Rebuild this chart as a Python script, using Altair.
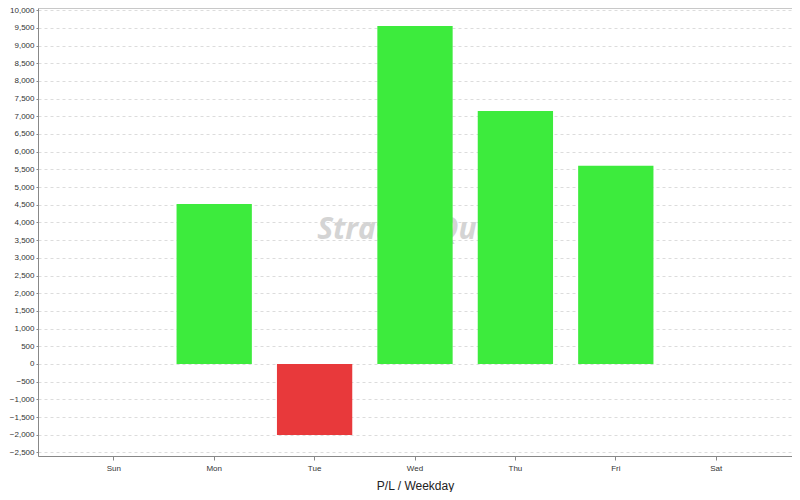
import altair as alt
import pandas as pd

days = ["Sun", "Mon", "Tue", "Wed", "Thu", "Fri", "Sat"]
pl = [None, 4520, -2010, 9550, 7150, 5600, None]

df = pd.DataFrame({"day": days, "pl": pl})
df["color"] = ["#3deb3d" if (v is not None and v >= 0) else "#e8393b" for v in pl]
bars_df = df.dropna(subset=["pl"])

x = alt.X("day:N", sort=days, scale=alt.Scale(domain=days, paddingInner=0.25, paddingOuter=0.38),
          axis=alt.Axis(title="P/L / Weekday", labelAngle=0, labelFontSize=8, labelFont="Arial",
                        labelColor="#333", titleFontSize=12, titleFontWeight="normal", titleFont="Arial",
                        titleColor="#222", domainColor="#888", tickColor="#888", tickSize=4,
                        labelPadding=4, titlePadding=8, grid=False))
y = alt.Y("pl:Q", scale=alt.Scale(domain=[-2600, 10060], nice=False, zero=False),
          axis=alt.Axis(title=None, values=list(range(-2500, 10001, 500)), format=",.0f",
                        labelFontSize=8, labelFont="Arial", labelColor="#333",
                        domainColor="#888", tickColor="#888", tickSize=2, labelPadding=2,
                        grid=True, gridDash=[3, 3], gridColor="#dcdcdc"))

wm = alt.Chart(pd.DataFrame({"t": ["StrategyQuant"]})).mark_text(
    fontSize=30, fontWeight="bold", fontStyle="italic", font="Open Sans", color="#d4d4d4"
).encode(text="t:N", x=alt.value(383), y=alt.value(222))

bars = alt.Chart(bars_df).mark_bar().encode(
    x=x, y=y, color=alt.Color("color:N", scale=None)
)

chart = alt.layer(wm, bars).properties(
    width=754, height=448, padding={"left": 30, "top": 0, "right": 0, "bottom": 36},
    autosize=alt.AutoSizeParams(type="none")
).configure_view(stroke="#c8c8c8")

chart.save("out.html", embed_options={"renderer": "svg", "actions": False})
